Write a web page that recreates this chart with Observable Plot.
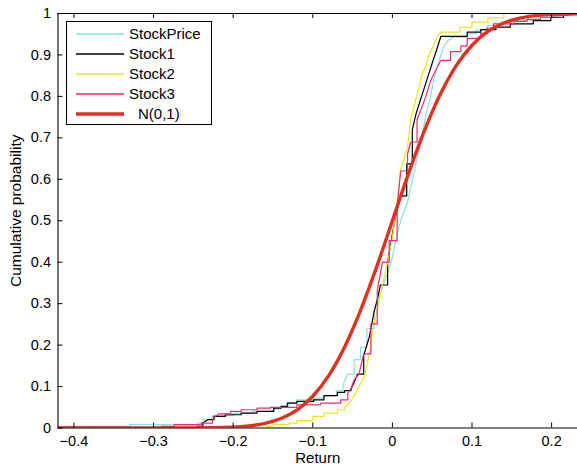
<!DOCTYPE html>
<html>
<head>
<meta charset="utf-8">
<script src="https://cdn.jsdelivr.net/npm/d3@7"></script>
<script src="https://cdn.jsdelivr.net/npm/@observablehq/plot@0.6"></script>
<style>
  body { margin: 0; background: #fff; overflow: hidden; }
  #wrap { position: relative; width: 577px; height: 471px; }
  #legend { position: absolute; left: 66px; top: 21px; width: 144px; height: 102px;
            border: 1px solid #000; background: #fff;
            font: 15px "Liberation Sans", Arial, Helvetica, sans-serif; color: #000; }
  .row { position: absolute; left: 0; height: 20px; width: 144px; }
  .row svg { position: absolute; left: 0; top: 0; }
  .row span { position: absolute; top: 1px; line-height: 18px; white-space: nowrap; }
</style>
</head>
<body>
<div id="wrap"><div id="legend"></div></div>
<script>
// ---------- data ----------
const returnTicks = [-0.4, -0.3, -0.2, -0.1, 0, 0.1, 0.2];
const probTicks = [0, 0.1, 0.2, 0.3, 0.4, 0.5, 0.6, 0.7, 0.8, 0.9, 1];
const seriesNames = ["StockPrice", "Stock1", "Stock2", "Stock3", "N(0,1)"];
const xLabel = "Return";
const yLabel = "Cumulative probability";

// empirical CDF knots: at return x the CDF jumps to p
const stockPriceX = [-0.414, -0.33, -0.245, -0.238, -0.226, -0.2, -0.175, -0.15, -0.14, -0.13, -0.12, -0.1, -0.085, -0.07, -0.062, -0.056, -0.048, -0.04, -0.032, -0.023, -0.017, -0.011, -0.005, 0, 0.004, 0.008, 0.013, 0.019, 0.025, 0.031, 0.0355, 0.042, 0.048, 0.052, 0.056, 0.061, 0.064, 0.07, 0.077, 0.094, 0.105, 0.119, 0.136, 0.15, 0.169, 0.186, 0.207, 0.225];
const stockPriceP = [0.004, 0.008, 0.012, 0.02, 0.03, 0.036, 0.04, 0.046, 0.05, 0.062, 0.068, 0.072, 0.078, 0.09, 0.105, 0.13, 0.165, 0.195, 0.24, 0.283, 0.315, 0.349, 0.38, 0.412, 0.45, 0.484, 0.515, 0.545, 0.597, 0.65, 0.685, 0.755, 0.8, 0.84, 0.87, 0.9, 0.919, 0.935, 0.943, 0.951, 0.96, 0.971, 0.979, 0.983, 0.987, 0.992, 0.996, 1];

const stock1X = [-0.245, -0.238, -0.232, -0.224, -0.21, -0.19, -0.17, -0.149, -0.14, -0.132, -0.12, -0.099, -0.086, -0.069, -0.06, -0.052, -0.048, -0.044, -0.036, -0.029, -0.023, -0.019, -0.015, -0.006, 0, 0.004, 0.0104, 0.018, 0.025, 0.03, 0.035, 0.04, 0.045, 0.05, 0.056, 0.061, 0.094, 0.111, 0.13, 0.148, 0.177, 0.199, 0.215, 0.222];
const stock1P = [0.004, 0.012, 0.02, 0.028, 0.032, 0.036, 0.04, 0.048, 0.052, 0.06, 0.064, 0.068, 0.078, 0.086, 0.09, 0.094, 0.11, 0.13, 0.175, 0.22, 0.28, 0.31, 0.345, 0.4, 0.468, 0.51, 0.56, 0.637, 0.72, 0.76, 0.79, 0.82, 0.85, 0.88, 0.915, 0.945, 0.955, 0.961, 0.967, 0.975, 0.983, 0.991, 0.997, 1];

const stock2X = [-0.158, -0.15, -0.13, -0.12, -0.1, -0.086, -0.069, -0.06, -0.056, -0.052, -0.048, -0.044, -0.04, -0.036, -0.031, -0.027, -0.023, -0.019, -0.0125, -0.006, 0, 0.005, 0.0104, 0.015, 0.019, 0.023, 0.026, 0.029, 0.033, 0.0376, 0.042, 0.046, 0.052, 0.056, 0.061, 0.085, 0.1, 0.12, 0.14];
const stock2P = [0.004, 0.008, 0.012, 0.018, 0.028, 0.036, 0.044, 0.05, 0.056, 0.066, 0.078, 0.092, 0.108, 0.12, 0.16, 0.2, 0.25, 0.285, 0.345, 0.4, 0.46, 0.53, 0.625, 0.65, 0.677, 0.745, 0.77, 0.79, 0.82, 0.855, 0.875, 0.9, 0.925, 0.943, 0.955, 0.967, 0.979, 0.99, 1];

const stock3X = [-0.29, -0.274, -0.24, -0.226, -0.222, -0.218, -0.203, -0.19, -0.17, -0.153, -0.12, -0.09, -0.065, -0.056, -0.052, -0.048, -0.042, -0.036, -0.027, -0.019, -0.0125, -0.004, 0.006, 0.0104, 0.019, 0.023, 0.031, 0.0355, 0.042, 0.048, 0.055, 0.061, 0.073, 0.086, 0.094, 0.111, 0.119, 0.127, 0.153, 0.169, 0.186, 0.2, 0.22];
const stock3P = [0.004, 0.008, 0.012, 0.02, 0.028, 0.034, 0.04, 0.044, 0.048, 0.05, 0.056, 0.06, 0.068, 0.084, 0.095, 0.116, 0.13, 0.179, 0.251, 0.332, 0.4, 0.452, 0.533, 0.62, 0.661, 0.69, 0.745, 0.766, 0.8, 0.838, 0.865, 0.887, 0.908, 0.922, 0.94, 0.952, 0.965, 0.975, 0.981, 0.985, 0.991, 0.996, 1];

// theoretical normal CDF
const normalX = [-0.42, -0.25, -0.2, -0.18, -0.16, -0.14, -0.12, -0.1, -0.08, -0.06, -0.04, -0.02, 0, 0.02, 0.04, 0.06, 0.08, 0.1, 0.12, 0.14, 0.16, 0.18, 0.2, 0.2325];
const normalP = [0, 0.0002, 0.0021, 0.0051, 0.0111, 0.0228, 0.0432, 0.0766, 0.1265, 0.1957, 0.2839, 0.3875, 0.5, 0.6125, 0.7161, 0.8043, 0.8735, 0.9234, 0.9568, 0.9772, 0.9889, 0.9949, 0.9979, 0.9995];

// ---------- styling ----------
const colors = ["#86e2da", "#000000", "#ece61c", "#ee2a76", "#e0311f"];
const widths = [1.2, 1.2, 1.2, 1.2, 3.4];
const W = 577, H = 471;
const mL = 57.5, mT = 13, mB = 43.5, mR = 0;
const plotW = W - mL - mR, plotH = H - mT - mB;
const xDomain = [-0.42, 0.2325];
const yDomain = [0, 1];
const tickPx = 5;
const tickX = tickPx / plotW * (xDomain[1] - xDomain[0]);
const tickY = tickPx / plotH * (yDomain[1] - yDomain[0]);
const font = '"Liberation Sans", Arial, Helvetica, sans-serif';

// build step (ECDF) polylines
function ecdf(name, xs, ps) {
  const pts = [{name, x: xDomain[0], p: 0}];
  let prevP = 0, prevX = xDomain[0];
  xs.forEach((x, i) => {
    if (x - prevX > 0.007 || i === 0) pts.push({name, x, p: prevP});
    pts.push({name, x, p: ps[i]});
    prevP = ps[i]; prevX = x;
  });
  pts.push({name, x: xDomain[1], p: prevP});
  return pts;
}
const empirical = [
  ecdf(seriesNames[0], stockPriceX, stockPriceP),
  ecdf(seriesNames[1], stock1X, stock1P),
  ecdf(seriesNames[2], stock2X, stock2P),
  ecdf(seriesNames[3], stock3X, stock3P)
];
const normalRows = normalX.map((x, i) => ({name: seriesNames[4], x, p: normalP[i]}));

const fmt = d => { const s = String(+d.toFixed(1)); return d < 0 ? "\u2212" + s.slice(1) : s; };

const chart = Plot.plot({
  width: W, height: H,
  marginLeft: mL, marginRight: mR, marginTop: mT, marginBottom: mB,
  style: {fontFamily: font, fontSize: "14.5px", color: "#000", background: "#fff", overflow: "visible"},
  x: {domain: xDomain},
  y: {domain: yDomain},
  marks: [
    ...empirical.map((rows, i) => Plot.line(rows, {x: "x", y: "p", stroke: colors[i], strokeWidth: widths[i], clip: true})),
    Plot.line(normalRows, {x: "x", y: "p", stroke: colors[4], strokeWidth: widths[4], curve: "monotone-x", clip: true}),
    // box
    Plot.ruleY([yDomain[0]], {stroke: "#000", strokeWidth: 1.1}),
    Plot.ruleY([yDomain[1]], {stroke: "#000", strokeWidth: 1.1}),
    Plot.ruleX([xDomain[0]], {stroke: "#000", strokeWidth: 1.1}),
    // inward ticks
    Plot.ruleX(returnTicks, {x: d => d, y1: yDomain[0], y2: yDomain[0] + tickY, stroke: "#000"}),
    Plot.ruleX(returnTicks, {x: d => d, y1: yDomain[1], y2: yDomain[1] - tickY, stroke: "#000"}),
    Plot.ruleY(probTicks, {y: d => d, x1: xDomain[0], x2: xDomain[0] + tickX, stroke: "#000"}),
    Plot.axisX(returnTicks, {tickSize: 0, tickPadding: 8, tickFormat: fmt, label: null}),
    Plot.axisY(probTicks, {tickSize: 0, tickPadding: 7, tickFormat: fmt, label: null}),
    Plot.text([xLabel], {text: d => d, frameAnchor: "bottom", dy: 34.5, fontSize: 15}),
    Plot.text([yLabel], {text: d => d, frameAnchor: "left", textAnchor: "middle", rotate: -90, dx: -42, dy: -10, fontSize: 15.5})
  ]
});
document.getElementById("wrap").prepend(chart);

// legend
const legend = document.getElementById("legend");
seriesNames.forEach((name, i) => {
  const row = document.createElement("div");
  row.className = "row";
  row.style.top = (2 + i * 20) + "px";
  const sw = document.createElementNS("http://www.w3.org/2000/svg", "svg");
  sw.setAttribute("width", "60"); sw.setAttribute("height", "20");
  const ln = document.createElementNS("http://www.w3.org/2000/svg", "line");
  ln.setAttribute("x1", 9); ln.setAttribute("x2", 57); ln.setAttribute("y1", 10); ln.setAttribute("y2", 10);
  ln.setAttribute("stroke", colors[i]); ln.setAttribute("stroke-width", i === 4 ? 3.6 : 1.4);
  sw.appendChild(ln);
  row.appendChild(sw);
  const t = document.createElement("span");
  t.textContent = name;
  t.style.left = (i === 4 ? 71 : 62) + "px";
  row.appendChild(t);
  legend.appendChild(row);
});
</script>
</body>
</html>
